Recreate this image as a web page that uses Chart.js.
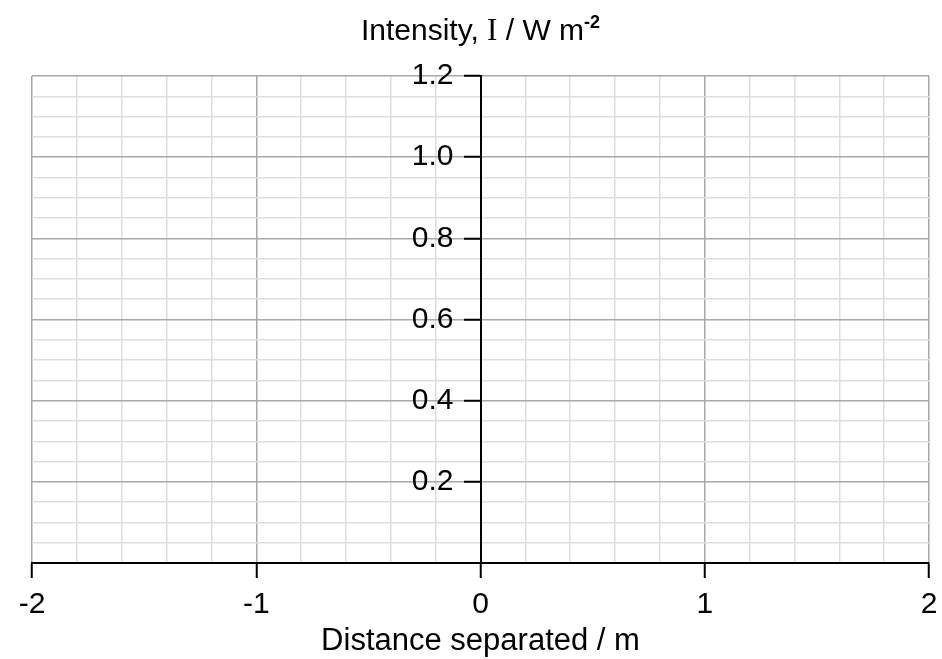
<!DOCTYPE html>
<html>
<head>
<meta charset="utf-8">
<script src="https://cdn.jsdelivr.net/npm/chart.js@4.4.0/dist/chart.umd.min.js"></script>
<style>
  html, body { margin: 0; padding: 0; background: #fff; }
  #wrap { width: 942px; height: 659px; }
</style>
</head>
<body>
<div id="wrap"><canvas id="chart"></canvas></div>
<script>
// axis ranges and labelled ticks
const xRange = [-2, 2];
const yRange = [0, 1.2];
const xLabelled = [-2, -1, 0, 1, 2];
const yLabelled = [0.2, 0.4, 0.6, 0.8, 1.0, 1.2];
const xMinorStep = 0.2;
const yMinorStep = 0.05;

// no plotted points in the reference, just the empty grid
const points = [];

const xTitle = "Distance separated / m";

const FONT = "'Liberation Sans', Arial, sans-serif";

const isOn = (v, list) => list.some(t => Math.abs(t - v) < 1e-6);

// axis titles: the y one has a serif "I" and a superscript, so draw both by hand
const axisTitles = {
    id: "axisTitles",
    afterDraw(chart) {
        const ctx = chart.ctx;
        const cx = chart.scales.x.getPixelForValue(0);
        const parts = [
            { t: "Intensity, ", f: "30px " + FONT, dy: 0 },
            { t: "I", f: "31px 'Liberation Serif', serif", dy: 0 },
            { t: " / W m", f: "30px " + FONT, dy: 0 },
            { t: "-2", f: "bold 18px " + FONT, dy: -9 }
        ];
        ctx.save();
        ctx.fillStyle = "#000";
        ctx.textBaseline = "middle";
        ctx.textAlign = "left";
        let total = 0;
        parts.forEach(p => {
            ctx.font = p.f;
            p.w = ctx.measureText(p.t).width;
            total += p.w;
        });
        let x = cx - total / 2;
        parts.forEach(p => {
            ctx.font = p.f;
            ctx.fillText(p.t, x, 32 + p.dy);
            x += p.w + (p.dy ? 1 : 0);
        });

        ctx.font = "31px " + FONT;
        ctx.textAlign = "center";
        ctx.fillText(xTitle, cx, 641);
        ctx.restore();
    }
};

new Chart(document.getElementById("chart"), {
    type: "scatter",
    data: {
        datasets: [
            {
                data: points,
                pointRadius: 0
            }
        ]
    },
    plugins: [axisTitles],
    options: {
        responsive: true,
        maintainAspectRatio: false,
        animation: false,
        layout: {
            padding: { top: 76, left: 32, right: 13, bottom: 27 }
        },
        plugins: {
            legend: { display: false },
            tooltip: { enabled: false }
        },
        scales: {
            x: {
                type: "linear",
                position: "bottom",
                min: xRange[0],
                max: xRange[1],
                afterFit(scale) {
                    scale.paddingLeft = 0;
                    scale.paddingRight = 0;
                },
                ticks: {
                    stepSize: xMinorStep,
                    autoSkip: false,
                    maxRotation: 0,
                    padding: 9,
                    color: "#000",
                    font: { size: 30, family: FONT, lineHeight: 1.2 },
                    callback: v => isOn(v, xLabelled) ? String(Math.round(v)) : ""
                },
                grid: {
                    color: c => isOn(c.tick.value, xLabelled) ? "#a8a8a8" : "#dedede",
                    lineWidth: 1.5,
                    tickLength: 15,
                    tickColor: c => isOn(c.tick.value, xLabelled) ? "#000" : "rgba(0,0,0,0)",
                    tickWidth: 2
                },
                border: {
                    color: "#000",
                    width: 2
                }
            },
            y: {
                type: "linear",
                position: "center",
                min: yRange[0],
                max: yRange[1],
                afterFit(scale) {
                    scale.paddingTop = 0;
                    scale.paddingBottom = 0;
                },
                ticks: {
                    stepSize: yMinorStep,
                    autoSkip: false,
                    padding: 11,
                    color: "#000",
                    font: { size: 30, family: FONT },
                    callback: v => isOn(v, yLabelled) ? v.toFixed(1) : ""
                },
                grid: {
                    color: c => isOn(c.tick.value, yLabelled) ? "#a8a8a8" : "#dedede",
                    lineWidth: 1.5,
                    tickLength: 16,
                    tickColor: c => isOn(c.tick.value, yLabelled) ? "#000" : "rgba(0,0,0,0)",
                    tickWidth: 2
                },
                border: {
                    color: "#000",
                    width: 2
                }
            }
        }
    }
});
</script>
</body>
</html>
